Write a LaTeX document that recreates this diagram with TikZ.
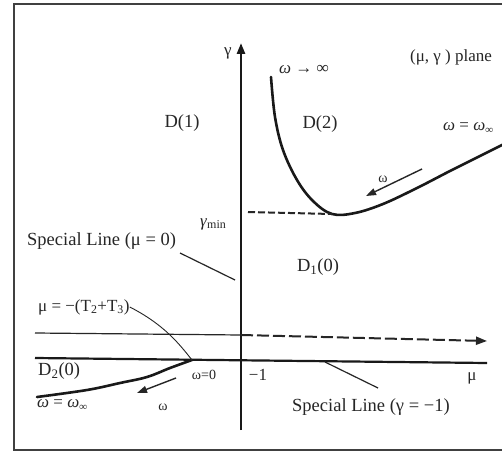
\documentclass[tikz,border=0pt]{standalone}
\usepackage{fontspec}
\setmainfont{Liberation Serif}
\usetikzlibrary{arrows.meta}
\begin{document}
\begin{tikzpicture}[x=1pt,y=-1pt,
  lbl/.style={font=\fontsize{17}{20}\selectfont, text=black!85, inner sep=0pt},
  big/.style={font=\fontsize{18.5}{22}\selectfont, text=black!85, inner sep=0pt},
  small/.style={font=\fontsize{14}{17}\selectfont, text=black!85, inner sep=0pt},
  curvestyle/.style={line width=2.6pt, line cap=round, black!90},
  axisline/.style={line width=2.6pt, black!90},
  leader/.style={line width=1.2pt, black!85},
  tip/.style={-{Triangle[length=11pt,width=8pt]}}]
\useasboundingbox (0,0) rectangle (502,457);
\clip (0,0) rectangle (502,457);
\fill[white] (0,0) rectangle (502,457);
% frame
\draw[line width=2pt, black!75] (14,4) rectangle (530,450);

% coordinates
\coordinate (ybot) at (241,430);
\coordinate (ytop) at (241,43);
\coordinate (ul) at (35,333);
\coordinate (um) at (241,335);
\coordinate (ur) at (487,341);
\coordinate (ll) at (35,358);
\coordinate (lr) at (487,363);
\coordinate (w0) at (192,360);

% axes and horizontal lines
\draw[axisline, tip] (ybot) -- (ytop);
\draw[line width=1.2pt, black!85] (ul) -- (um);
\draw[line width=2pt, black!85, dash pattern=on 12pt off 4pt, tip] (um) -- (ur);
\draw[line width=2.2pt, black!90] (ll) -- (lr);

% upper curve
\coordinate (cmin) at (332,214);
\draw[curvestyle] plot[smooth, tension=0.6] coordinates {(271,77) (275,117) (283,150) (297,180) (313,201) (332,214) (355,213) (383,204) (417,188) (450,171) (480,156) (506,143)};
% gamma min dashed
\coordinate (gl) at (248,212);
\draw[line width=2pt, black!85, dash pattern=on 7pt off 3pt] (gl) -- (cmin);
% lower-left curve
\draw[curvestyle] plot[smooth, tension=0.6] coordinates {(192,360) (170,368) (147,377) (120,383) (87,390) (37,397)};

% small omega arrows
\coordinate (a1s) at (422,169);
\coordinate (a1e) at (366,196);
\draw[line width=1.4pt, black!85, -{Triangle[length=10pt,width=7pt]}] (a1s) -- (a1e);
\coordinate (a2s) at (176,378);
\coordinate (a2e) at (137,393);
\draw[line width=1.4pt, black!85, -{Triangle[length=10pt,width=7pt]}] (a2s) -- (a2e);

% labels
\node[lbl] (gam) at (228,53) {γ};
\node[lbl, anchor=west] (plane) at (410,57) {(μ, γ ) plane};
\node[lbl, anchor=west] (winf) at (279,70) {\textit{ω} → \textit{∞}};
\node[big] (d1) at (182,123) {D(1)};
\node[big] (d2) at (320,124) {D(2)};
\node[lbl, anchor=west] (wwinf) at (443,128) {\textit{ω} = \textit{ω}\raisebox{-0.35ex}{\fontsize{11}{12}\selectfont\textit{∞}}};
\node[small] (wup) at (383,179) {ω};
\node[lbl] (gmin) at (213,224) {\textit{γ}\raisebox{-0.3ex}{\fontsize{12}{13}\selectfont min}};
\node[big, anchor=west] (sl0) at (27,241) {Special Line (μ = 0)};
\node[big] (d10) at (318,267) {D\textsubscript{1}(0)};
\node[lbl, anchor=west] (mut) at (38,307) {μ = −(T\textsubscript{2}+T\textsubscript{3})};
\node[big, anchor=west] (d20) at (38,371) {D\textsubscript{2}(0)};
\node[small] (wz) at (204,375) {ω=0};
\node[small] (wlow) at (163,407) {ω};
\node[lbl, anchor=west] (wwinf2) at (37,405) {\textit{ω} = \textit{ω}\raisebox{-0.35ex}{\fontsize{11}{12}\selectfont\textit{∞}}};
\node[lbl] (m1) at (258,375) {−1};
\node[lbl] (mu) at (472,378) {μ};
\node[big, anchor=west] (slg) at (292,407) {Special Line (γ = −1)};

% leader lines
\coordinate (l1a) at (180,253);
\coordinate (l1b) at (235,280);
\draw[leader] (l1a) -- (l1b);
\draw[leader, line width=0.9pt] (mut.east) .. controls (165,325) and (180,345) .. (w0);
\coordinate (l3a) at (325,362);
\coordinate (l3b) at (378,388);
\draw[leader] (l3a) -- (l3b);
\end{tikzpicture}
\end{document}
